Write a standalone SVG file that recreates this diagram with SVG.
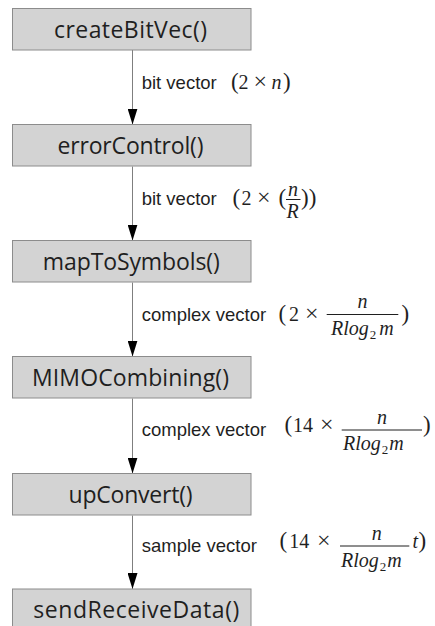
<svg xmlns="http://www.w3.org/2000/svg" width="435" height="626" viewBox="0 0 435 626">
<style>
.box{fill:#d3d3d3;stroke:#8c8c8c;stroke-width:1}
.bt{font-family:"Open Sans","Noto Sans","DejaVu Sans",sans-serif;font-size:23px;fill:#1f1f1f;text-anchor:middle}
.lb{font-family:"Liberation Sans",Arial,sans-serif;font-size:18.5px;fill:#1f1f1f}
.m{font-family:"Liberation Serif","Times New Roman",serif;font-size:20px;fill:#1f1f1f}
.p{font-size:23px}
.x{font-size:24px}
.i{font-style:italic}
.s{font-size:13px;font-style:normal}
.bar{stroke:#1f1f1f;stroke-width:1}
.con{stroke:#7f7f7f;stroke-width:1;fill:none;marker-end:url(#ah)}
</style>
<defs>
<marker id="ah" markerUnits="userSpaceOnUse" viewBox="0 0 16 10" markerWidth="16" markerHeight="10" refX="16" refY="5" orient="auto">
<path d="M0,0 L16,5 L0,10 z" fill="#000"/>
</marker>
</defs>
<rect width="435" height="626" fill="#fff"/>
<g id="connectors">
<line class="con" x1="132.5" y1="50" x2="132.5" y2="124.5"/>
<line class="con" x1="132.5" y1="166.5" x2="132.5" y2="240.5"/>
<line class="con" x1="132.5" y1="282.5" x2="132.5" y2="356.5"/>
<line class="con" x1="132.5" y1="398.5" x2="132.5" y2="473.5"/>
<line class="con" x1="132.5" y1="515.5" x2="132.5" y2="589"/>
</g>
<g id="createBitVec">
<rect class="box" x="12.5" y="8.5" width="238.5" height="41.5"/>
<text class="bt" x="130.5" y="37.5" textLength="153">createBitVec()</text>
</g>
<g id="errorControl">
<rect class="box" x="12.5" y="124.5" width="238.5" height="41.5"/>
<text class="bt" x="130.5" y="153.5" textLength="146">errorControl()</text>
</g>
<g id="mapToSymbols">
<rect class="box" x="12.5" y="240.5" width="238.5" height="41.5"/>
<text class="bt" x="131.3" y="269.5" textLength="177">mapToSymbols()</text>
</g>
<g id="MIMOCombining">
<rect class="box" x="12.5" y="356.5" width="238.5" height="41.5"/>
<text class="bt" x="130.5" y="385.5" textLength="197">MIMOCombining()</text>
</g>
<g id="upConvert">
<rect class="box" x="12.5" y="473.5" width="238.5" height="41.5"/>
<text class="bt" x="130.5" y="502.5" textLength="124">upConvert()</text>
</g>
<g id="sendReceiveData">
<rect class="box" x="12.5" y="589" width="238.5" height="41.5"/>
<text class="bt" x="136.3" y="618" textLength="206">sendReceiveData()</text>
</g>
<g id="label1">
<text class="lb" x="141.7" y="89">bit vector</text>
<text class="m" y="89"><tspan class="p" x="231">(</tspan><tspan x="238.5">2</tspan><tspan class="x" x="253.5">×</tspan><tspan class="i" x="271.5">n</tspan><tspan class="p" x="283">)</tspan></text>
</g>
<g id="label2">
<text class="lb" x="141.7" y="205">bit vector</text>
<text class="m" y="205"><tspan class="p" x="232.5">(</tspan><tspan x="241.5">2</tspan><tspan class="x" x="257">×</tspan><tspan class="p" x="278.5">(</tspan><tspan class="p" x="301">))</tspan></text>
<text class="m i" x="288" y="195.5">n</text>
<line class="bar" x1="286" y1="199.5" x2="300.5" y2="199.5"/>
<text class="m i" x="286.5" y="218">R</text>
</g>
<g id="label3">
<text class="lb" x="141.7" y="321">complex vector</text>
<text class="m" y="321"><tspan class="p" x="278.5">(</tspan><tspan x="289">2</tspan><tspan class="x" x="305">×</tspan><tspan class="p" x="401.5">)</tspan></text>
<text class="m i" x="362.5" y="308" text-anchor="middle">n</text>
<line class="bar" x1="326.7" y1="314.5" x2="398.3" y2="314.5"/>
<text class="m i" x="331" y="335">Rlog<tspan class="s" dx="1" dy="4">2</tspan><tspan dx="3" dy="-4">m</tspan></text>
</g>
<g id="label4">
<text class="lb" x="141.7" y="436">complex vector</text>
<text class="m" y="432"><tspan class="p" x="284.5">(</tspan><tspan x="293">14</tspan><tspan class="x" x="320">×</tspan><tspan class="p" x="423">)</tspan></text>
<text class="m i" x="382" y="424" text-anchor="middle">n</text>
<line class="bar" x1="341.7" y1="430" x2="422" y2="430"/>
<text class="m i" x="343" y="449.5">Rlog<tspan class="s" dx="1" dy="4">2</tspan><tspan dx="1" dy="-4">m</tspan></text>
</g>
<g id="label5">
<text class="lb" x="141.7" y="552">sample vector</text>
<text class="m" y="548"><tspan class="p" x="279.5">(</tspan><tspan x="289.3">14</tspan><tspan class="x" x="317">×</tspan><tspan class="i" x="412.5">t</tspan><tspan class="p" x="418.5">)</tspan></text>
<text class="m i" x="376.7" y="540" text-anchor="middle">n</text>
<line class="bar" x1="340" y1="546" x2="409.3" y2="546"/>
<text class="m i" x="341" y="566.5">Rlog<tspan class="s" dx="1" dy="4">2</tspan><tspan dx="1" dy="-4">m</tspan></text>
</g>
</svg>
